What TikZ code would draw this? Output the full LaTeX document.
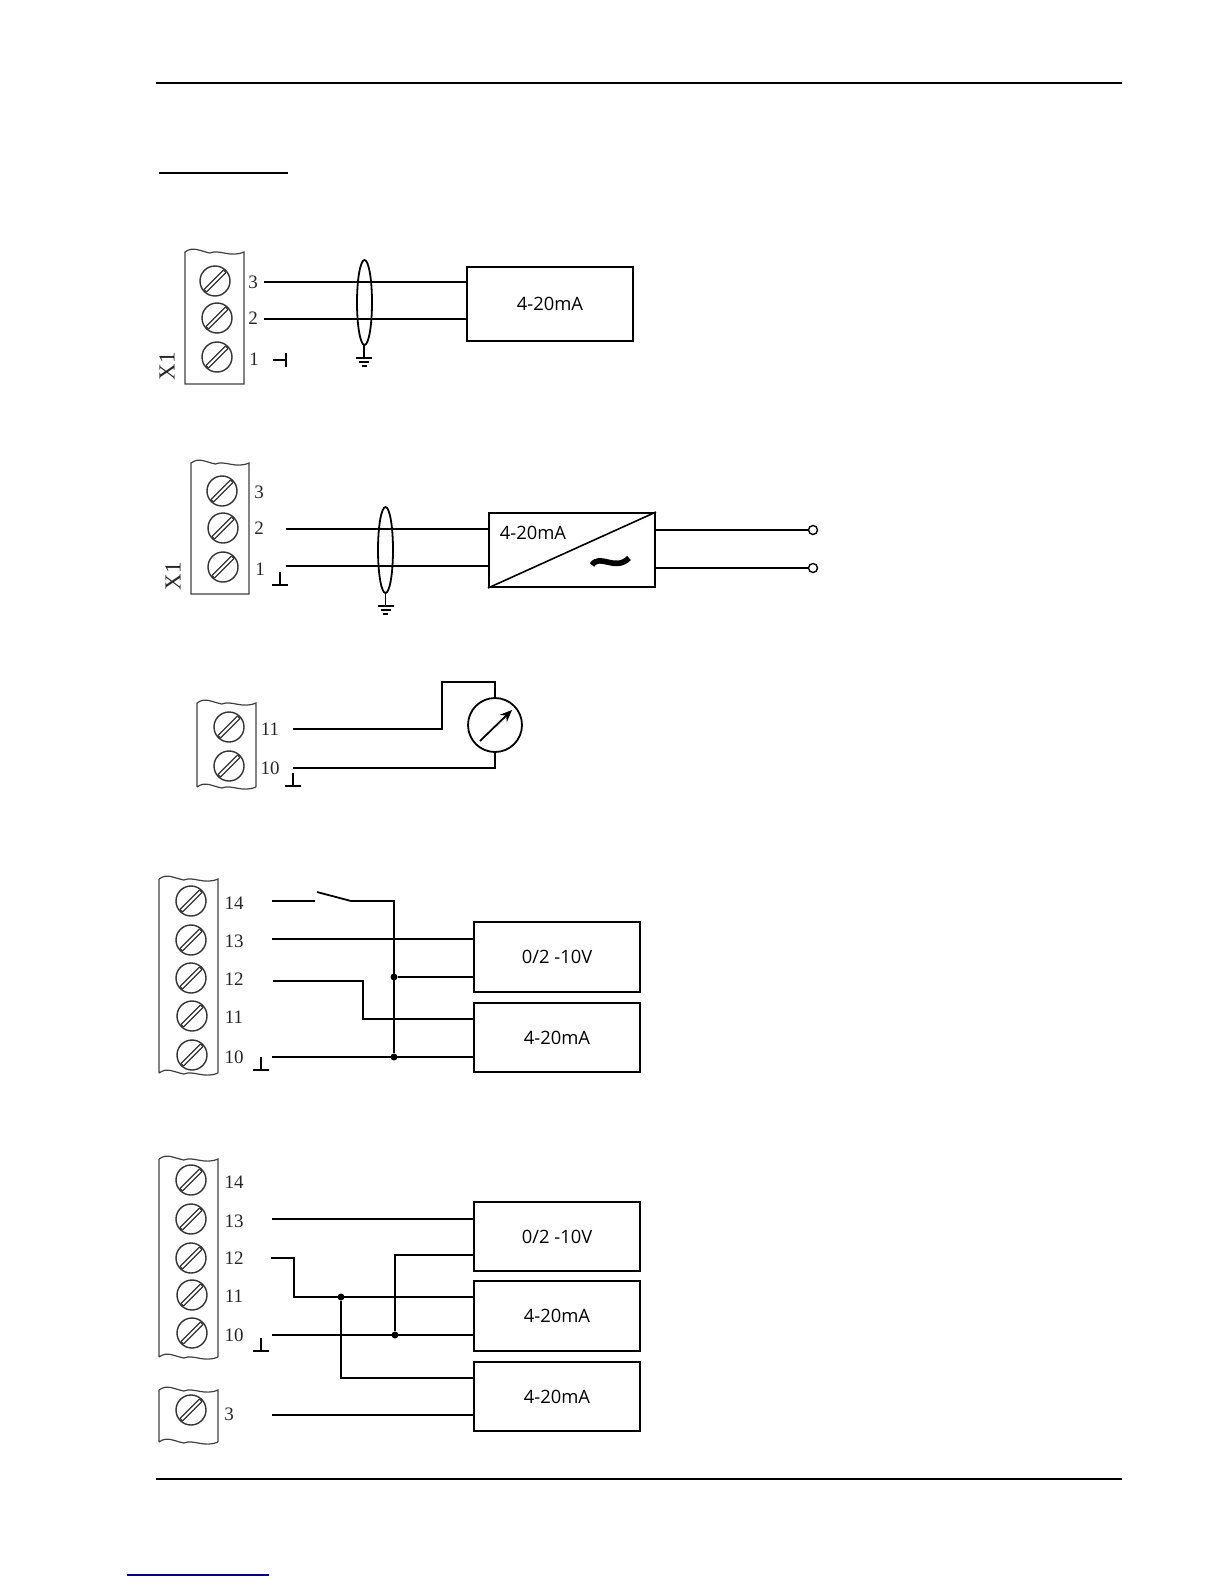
\documentclass[tikz,border=0pt]{standalone}
\usepackage{fontspec}
\setmainfont{Liberation Serif}
\newfontfamily\boxfont{Open Sans}
\usetikzlibrary{arrows.meta}

\tikzset{
  wire/.style={line width=0.9pt, black},
  thinwire/.style={line width=0.6pt, black},
  strip/.style={line width=0.6pt, black!75},
  boxblock/.style={draw, line width=1pt, inner sep=0pt, minimum width=83pt, font=\boxfont\fontsize{9.2}{11}\selectfont},
  termlabel/.style={inner sep=0pt, font=\fontsize{9.5}{11}\selectfont, black!85},
  outpoint/.style={draw, circle, line width=0.7pt, inner sep=0pt, minimum size=4.5pt},
  junction/.style={circle, fill=black, inner sep=0pt, minimum size=3.5pt},
  % one terminal screw
  pics/screw/.style={code={
    \draw[line width=0.7pt, black!80] (0,0) circle (15);
    \draw[line width=0.6pt, black!80] (-11,8.5) -- (8.5,-11) (-8.5,11) -- (11,-8.5);
    \draw[line width=0.6pt, black!80] (-11,8.5) -- (-8.5,11) (8.5,-11) -- (11,-8.5);
  }},
  % ground at the end of a shield
  pics/earth/.style={code={
    \draw[line width=0.8pt] (0,0) -- (0,13);
    \draw[line width=0.8pt] (-8,13) -- (8,13) (-5,17) -- (5,17) (-2.5,21) -- (2.5,21);
  }},
  pics/zero/.style={code={
    \draw[line width=0.8pt] (0,0) -- (0,13) (-8,13) -- (8,13);
  }}
}

% wavy edge of a terminal strip, left to right
\newcommand{\wavytop}[3]{%
  (#1,#3) .. controls +(8,-6) and +(-10,-2) .. ({#1+(#2-#1)*.42},{#3+1})
  .. controls +(10,-4) and +(-14,6) .. (#2,#3)}

\begin{document}
\begin{tikzpicture}[x=0.5pt, y=-0.5pt]
\useasboundingbox (0,0) rectangle (1224,1584);

% page rules
\coordinate (headL) at (156,83);  \coordinate (headR) at (1122,83);
\coordinate (footL) at (156,1479); \coordinate (footR) at (1122,1479);
\draw[line width=0.8pt] (headL) -- (headR);
\draw[line width=1pt] (footL) -- (footR);
\coordinate (titleL) at (159,173); \coordinate (titleR) at (288,173);
\draw[line width=1pt] (titleL) -- (titleR);
\coordinate (linkL) at (127,1575); \coordinate (linkR) at (269,1575);
\draw[line width=0.6pt, blue!50!black] (linkL) -- (linkR);

%%% first diagram
\draw[strip] \wavytop{185}{244}{252} -- (244,384) -- (185,384) -- cycle;
\foreach \y [count=\s] in {281,318,357}
  \pic at ({\s==1 ? 215 : 217},\y) {screw};
\node[termlabel] (labA3) at (253,282) {3};
\node[termlabel] (labA2) at (253,318) {2};
\node[termlabel] (labA1) at (254,359) {1};
\node[termlabel, rotate=90, font=\fontsize{11.5}{12}\selectfont] (labAX) at (167,366) {X1};
\draw[line width=0.8pt] (273,360) -- (286,360) (286,353) -- (286,367);

\node[boxblock, minimum height=37pt] (boxA) at (550,303.5) {4-20mA};
\coordinate (wireA3) at (264,282);
\coordinate (wireA2) at (264,319);
\draw[wire] (wireA3) -- (wireA3 -| boxA.west);
\draw[wire] (wireA2) -- (wireA2 -| boxA.west);
\draw[line width=0.9pt] (364.5,302.5) ellipse (7.5 and 42.5);
\pic at (364,345) {earth};

%%% second diagram
\draw[strip] \wavytop{191}{249}{463} -- (249,594) -- (191,594) -- cycle;
\foreach \y [count=\s] in {491,528,567}
  \pic at ({\s==1 ? 222 : 223},\y) {screw};
\node[termlabel] (labB3) at (259,492) {3};
\node[termlabel] (labB2) at (259,528) {2};
\node[termlabel] (labB1) at (260,569) {1};
\node[termlabel, rotate=90, font=\fontsize{11.5}{12}\selectfont] (labBX) at (173,576) {X1};
\pic at (280,572) {zero};

\node[draw, line width=1pt, minimum width=83pt, minimum height=37pt, inner sep=0pt] (boxB) at (572,550) {};
\draw[line width=0.8pt] (boxB.south west) -- (boxB.north east);
\node[inner sep=0pt, font=\boxfont\fontsize{9.2}{11}\selectfont] (labB) at (533,533) {4-20mA};
\coordinate (wireB2) at (286,529);
\coordinate (wireB1) at (286,566);
\node[outpoint] (outB1) at (813,530) {};
\node[outpoint] (outB2) at (813,568) {};
\draw[wire] (wireB2) -- (wireB2 -| boxB.west);
\draw[wire] (wireB1) -- (wireB1 -| boxB.west);
\draw[wire] (outB1.west -| boxB.east) -- (outB1.west);
\draw[wire] (outB2.west -| boxB.east) -- (outB2.west);
\draw[line width=0.9pt] (385.5,550) ellipse (7.5 and 43);
\pic at (385.5,593) {earth};
\draw[line width=2.8pt] (592,565) .. controls (600,553) and (615,572) .. (629,558);

%%% third diagram
\draw[strip] (197,787) -- (197,703) \wavytop{197}{256}{703} -- (256,787)
  \wavytop{197}{256}{787};
\foreach \y in {727,766}
  \pic at (229,\y) {screw};
\node[termlabel] (labC11) at (270,729) {11};
\node[termlabel] (labC10) at (270,768) {10};
\node[draw, circle, line width=0.9pt, inner sep=0pt, minimum size=27pt] (meter) at (495,725) {};
\coordinate (wireC11) at (293,729);
\coordinate (wireC10) at (293,768);
\draw[wire] (wireC11) -| (442,682) -| (meter.north);
\draw[wire] (wireC10) -| (meter.south);
\draw[line width=0.9pt, -{Stealth[length=6pt,width=5pt]}] (480,741) -- (512,710);
\pic at (293,773) {zero};

%%% fourth diagram
\draw[strip] (159,1073) -- (159,879) \wavytop{159}{218}{879} -- (218,1073)
  \wavytop{159}{218}{1073};
\foreach \y [count=\s] in {901,940,978,1016,1055}
  \pic at ({\s<4 ? 191 : 192},\y) {screw};
\foreach \y/\t in {903/14,941/13,979/12,1017/11,1057/10}
  \node[termlabel] (labD\t) at (234,\y) {\t};
\node[boxblock, minimum height=35pt] (boxD1) at (557,957) {0/2 -10V};
\node[boxblock, minimum height=34.5pt] (boxD2) at (557,1037.5) {4-20mA};
\coordinate (wireD14) at (272,901);
\coordinate (swA) at (315,901);
\coordinate (swB) at (317,892);
\coordinate (swC) at (351,901);
\coordinate (wireD13) at (272,939);
\coordinate (wireD12) at (273,981);
\coordinate (wireD10) at (272,1057);
\node[junction] (dotD1) at (394,977) {};
\node[junction] (dotD2) at (394,1057) {};
\draw[wire] (wireD14) -- (swA);
\draw[wire] (swB) -- (swC) -- (394,901) -- (dotD2);
\draw[thinwire] (wireD13) -- (wireD13 -| boxD1.west);
\draw[wire] (dotD1) -- (dotD1 -| boxD1.west);
\draw[wire] (wireD12) -| (363,1019) -- (boxD2.west |- 0,1019);
\draw[wire] (wireD10) -- (wireD10 -| boxD2.west);
\pic at (261,1057) {zero};

%%% fifth diagram
\draw[strip] (159,1357) -- (159,1159) \wavytop{159}{218}{1159} -- (218,1357)
  \wavytop{159}{218}{1357};
\foreach \y [count=\s] in {1180,1219,1258,1295,1333}
  \pic at ({\s<4 ? 191 : 192},\y) {screw};
\foreach \y/\t in {1182/14,1221/13,1258/12,1296/11,1335/10}
  \node[termlabel] (labE\t) at (234,\y) {\t};
\draw[strip] (159,1442) -- (159,1390) \wavytop{159}{218}{1390} -- (218,1442)
  \wavytop{159}{218}{1442};
\pic at (191,1410) {screw};
\node[termlabel] (labE3) at (229,1414) {3};
\node[boxblock, minimum height=34.5pt] (boxE1) at (557,1236.5) {0/2 -10V};
\node[boxblock, minimum height=35pt] (boxE2) at (557,1316) {4-20mA};
\node[boxblock, minimum height=34.5pt] (boxE3) at (557,1396.5) {4-20mA};
\coordinate (wireE13) at (272,1219);
\coordinate (wireE12) at (271,1258);
\coordinate (wireE10) at (272,1335);
\coordinate (wireE3) at (272,1415);
\node[junction] (dotE1) at (341,1297) {};
\node[junction] (dotE2) at (395,1335) {};
\draw[wire] (wireE13) -- (wireE13 -| boxE1.west);
\draw[wire] (wireE12) -| (294,1297) -- (boxE2.west |- 0,1297);
\draw[wire] (dotE1) |- (boxE3.west |- 0,1378);
\draw[thinwire] (wireE10) -- (wireE10 -| boxE2.west);
\draw[wire] (dotE2) |- (boxE1.west |- 0,1255);
\draw[wire] (wireE3) -- (wireE3 -| boxE3.west);
\pic at (261,1338) {zero};
\end{tikzpicture}
\end{document}
